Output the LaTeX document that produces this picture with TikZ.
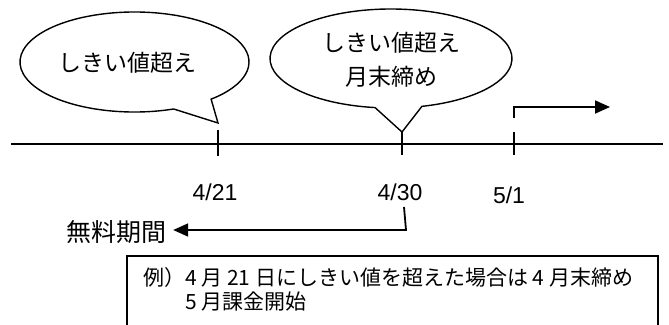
\documentclass[tikz,border=0pt]{standalone}
\usepackage{fontspec}
\setmainfont{Noto Sans CJK JP}
\newfontfamily\datefont{Liberation Sans}
\usetikzlibrary{arrows.meta}
\tikzset{
	bubble/.style={draw,line width=1.4pt,fill=white,line join=miter},
	axisline/.style={line width=2pt},
	arrowline/.style={line width=1.8pt,-{Triangle[length=15pt,width=13pt]}},
	datelabel/.style={font=\datefont\fontsize{23}{25}\selectfont,inner sep=0pt},
	bubbletext/.style={font=\fontsize{23}{34}\selectfont,align=center,inner sep=0pt}
}
\begin{document}
\begin{tikzpicture}[x=1pt,y=-1pt]
	\useasboundingbox (0,0) rectangle (669,324);
	\clip (0,0) rectangle (669,324);
	%Truc thoi gian
	\coordinate (a0) at (11,144);
	\coordinate (a1) at (663,144);
	\draw[axisline] (a0) -- (a1);
	%Vach 4/21, 4/30, 5/1
	\coordinate (t421) at (218,144);
	\coordinate (t430) at (402,144);
	\coordinate (t51) at (514,144);
	\draw[axisline] (t421) ++(0,-14) -- ++(0,26);
	\draw[axisline] (t430) ++(0,-12) -- ++(0,23);
	\draw[axisline] (t51) ++(0,-12) -- ++(0,23);
	%Bong 1
	\def\BA{ (134.5,62) ++(70:114.5 and 50)
		arc[start angle=70,end angle=408,x radius=114.5,y radius=50]
		-- (218,123) -- cycle;}
	\draw[bubble] \BA
	\node[bubbletext] (b1) at (127,63) {しきい値超え};
	%Bong 2
	\def\BB{ (391,58.5) ++(97.6:121 and 49.5)
		arc[start angle=97.6,end angle=435.2,x radius=121,y radius=49.5]
		-- (402,132) -- cycle;}
	\draw[bubble] \BB
	\node[bubbletext] (b2) at (391,60) {しきい値超え\\月末締め};
	%Nhan ngay
	\node[datelabel] (d421) at (215,192) {4/21};
	\node[datelabel] (d430) at (400,192) {4/30};
	\node[datelabel] (d51) at (509,195) {5/1};
	%Mui ten 5/1
	\coordinate (s51) at (514,118);
	\coordinate (e51) at (610,107);
	\draw[arrowline] (s51) |- (e51);
	%Thoi gian mien phi
	\node[font=\fontsize{25}{28}\selectfont,inner sep=0pt] (muryo) at (116,232) {無料期間};
	\coordinate (f0) at (404,207);
	\coordinate (f1) at (406,230);
	\draw[arrowline] (f0) -- (f1) -- ([xshift=7pt]muryo.east |- f1);
	%Khung ghi chu
	\draw[line width=1.4pt] (127,256) rectangle (658,340);
	\node[anchor=north west,align=left,font=\fontsize{21}{24}\selectfont,inner sep=0pt] (note) at (143,267)
		{例）4 月 21 日にしきい値を超えた場合は 4 月末締め\\\phantom{例）}5 月課金開始};
\end{tikzpicture}
\end{document}
